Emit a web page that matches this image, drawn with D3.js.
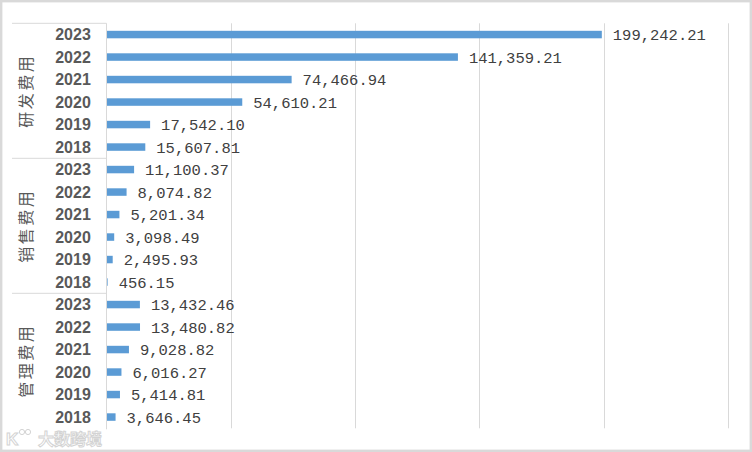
<!DOCTYPE html>
<html>
<head>
<meta charset="utf-8">
<script src="https://cdn.jsdelivr.net/npm/d3@7"></script>
<style>
  html, body { margin: 0; padding: 0; background: #fff; }
  svg { display: block; }
</style>
</head>
<body>
<script>
const groups = ["研发费用", "销售费用", "管理费用"];
const years = ["2023", "2022", "2021", "2020", "2019", "2018"];
const rdValues = [199242.21, 141359.21, 74466.94, 54610.21, 17542.10, 15607.81];
const salesValues = [11100.37, 8074.82, 5201.34, 3098.49, 2495.93, 456.15];
const adminValues = [13432.46, 13480.82, 9028.82, 6016.27, 5414.81, 3646.45];
const xTicks = [0, 50000, 100000, 150000, 200000, 250000];

const groupValues = [rdValues, salesValues, adminValues];
const rows = [];
groups.forEach((g, gi) => {
  years.forEach((yr, yi) => {
    rows.push({ group: g, year: yr, key: g + "-" + yr, value: groupValues[gi][yi] });
  });
});

const W = 752, H = 452;
const svg = d3.select("body").append("svg").attr("width", W).attr("height", H);

svg.append("rect").attr("x", 0).attr("y", 0).attr("width", W).attr("height", H).attr("fill", "#fff");
svg.append("rect").attr("x", 1.2).attr("y", 1.2).attr("width", 749.6).attr("height", 449.6)
  .attr("fill", "none").attr("stroke", "#d9d9d9").attr("stroke-width", 2.4);

const pTop = 23.3, pBottom = 428.3, pLeft = 106.5, pRight = 728;
const x = d3.scaleLinear().domain([0, 250000]).range([pLeft, pRight]);
const y = d3.scaleBand().domain(rows.map(d => d.key)).range([pTop, pBottom])
  .paddingInner(0.667).paddingOuter(0.3335);
const step = y.step();

// gridlines
svg.append("g").selectAll("line").data(xTicks.slice(1)).join("line")
  .attr("x1", d => Math.round(x(d)) + 0.5).attr("x2", d => Math.round(x(d)) + 0.5)
  .attr("y1", pTop).attr("y2", pBottom)
  .attr("stroke", "#d9d9d9").attr("stroke-width", 1);

// bars
svg.append("g").selectAll("rect").data(rows).join("rect")
  .attr("x", x(0)).attr("y", d => y(d.key))
  .attr("width", d => x(d.value) - x(0)).attr("height", y.bandwidth())
  .attr("fill", "#5b9bd5");

// axis line
svg.append("line").attr("x1", pLeft).attr("x2", pLeft).attr("y1", pTop).attr("y2", pBottom + 1)
  .attr("stroke", "#d9d9d9").attr("stroke-width", 1);

// group separators
const sepY = [0, 1, 2].map(i => y(rows[i * 6].key) - step / 3);
svg.append("g").selectAll("line").data(sepY).join("line")
  .attr("x1", 12).attr("x2", pLeft).attr("y1", d => d).attr("y2", d => d)
  .attr("stroke", "#d9d9d9").attr("stroke-width", 1);

// year labels
svg.append("g").selectAll("text").data(rows).join("text")
  .attr("x", 73).attr("y", d => y(d.key) + y.bandwidth() / 2)
  .attr("dy", "0.36em").attr("text-anchor", "middle")
  .attr("font-family", "Liberation Sans, Arial, sans-serif")
  .attr("font-weight", "bold").attr("font-size", 16)
  .attr("fill", "#595959").text(d => d.year);

// group labels (rotated)
groups.forEach((g, gi) => {
  const cy = sepY[gi] + step * 3;
  svg.append("text")
    .attr("transform", `translate(26,${cy}) rotate(-90)`)
    .attr("text-anchor", "middle").attr("dy", "0.36em")
    .attr("font-family", "Noto Sans CJK SC, sans-serif")
    .attr("font-size", 16).attr("letter-spacing", 2.5)
    .attr("fill", "#595959").text(g);
});

// value labels
const fmt = d3.format(",.2f");
svg.append("g").selectAll("text").data(rows).join("text")
  .attr("x", d => x(d.value) + 11).attr("y", d => y(d.key) + y.bandwidth() / 2)
  .attr("dy", "0.36em")
  .attr("font-family", "Liberation Mono, DejaVu Sans Mono, monospace")
  .attr("font-size", 15.5)
  .attr("fill", "#404040").text(d => fmt(d.value));

// watermark
const wm = svg.append("g").attr("opacity", 0.9);
wm.append("text").attr("x", 6).attr("y", 445)
  .attr("font-family", "Liberation Sans, sans-serif").attr("font-weight", "bold").attr("font-size", 17)
  .attr("fill", "#fff").attr("stroke", "#cfcfcf").attr("stroke-width", 1).text("K");
wm.append("circle").attr("cx", 22).attr("cy", 432).attr("r", 2.6).attr("fill", "#fff").attr("stroke", "#cfcfcf");
wm.append("circle").attr("cx", 28).attr("cy", 432).attr("r", 2.6).attr("fill", "#fff").attr("stroke", "#cfcfcf");
wm.append("text").attr("x", 38).attr("y", 445)
  .attr("font-family", "Noto Sans CJK SC, sans-serif").attr("font-weight", "bold").attr("font-size", 16)
  .attr("fill", "#fff").attr("stroke", "#cfcfcf").attr("stroke-width", 1).text("大数跨境");
</script>
</body>
</html>
